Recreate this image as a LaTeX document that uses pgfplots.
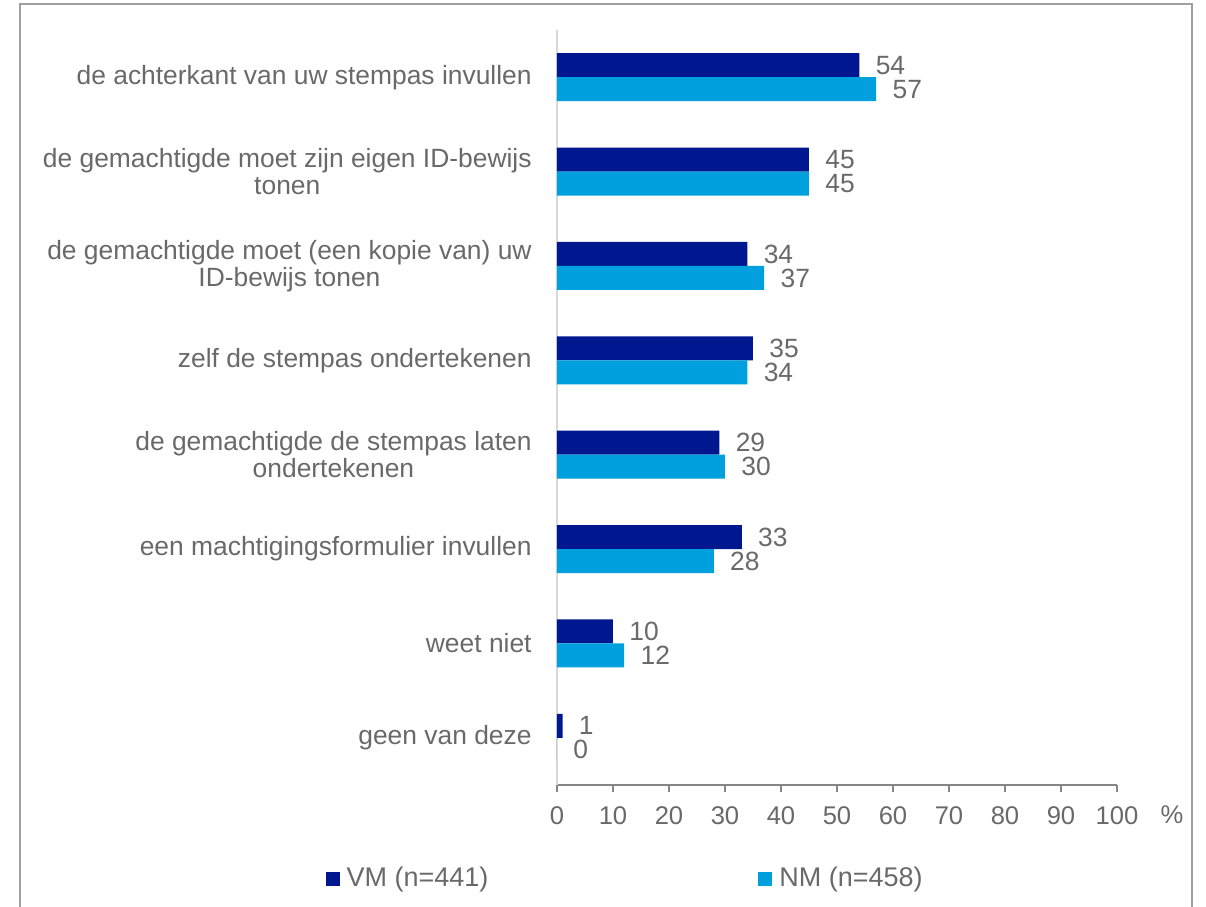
\documentclass[border=0pt]{standalone}
\usepackage{pgfplots}
\pgfplotsset{compat=1.18}
\usepackage{fontspec}
\setmainfont{Liberation Sans}
\definecolor{vm}{RGB}{0,24,143}
\definecolor{nm}{RGB}{0,160,222}
\definecolor{txt}{RGB}{105,105,105}
\definecolor{framec}{RGB}{160,160,160}
\definecolor{axl}{RGB}{134,134,134}
\definecolor{yaxl}{RGB}{217,217,217}
\begin{document}
\begin{tikzpicture}
\useasboundingbox (0,0) rectangle (603pt,453pt);
\draw[framec, line width=1pt] (10pt,-2pt) -- (10pt,451pt) -- (596pt,451pt) -- (596pt,-2pt);
\begin{axis}[
  at={(278.5pt,60.5pt)}, anchor=south west,
  scale only axis, width=280pt, height=377.5pt,
  xmin=0, xmax=100, ymin=0.5, ymax=8.5,
  xbar, bar width=12pt,
  clip=false,
  axis x line*=bottom, axis y line*=left,
  x axis line style={axl, line width=0.9pt},
  y axis line style={yaxl, line width=0.9pt},
  xtick={0,10,...,100},
  ytick={1,...,8},
  yticklabels={geen van deze, weet niet, een machtigingsformulier invullen, {de gemachtigde de stempas laten\\ondertekenen}, zelf de stempas ondertekenen, {de gemachtigde moet (een kopie van) uw\\ID-bewijs tonen}, {de gemachtigde moet zijn eigen ID-bewijs\\tonen}, de achterkant van uw stempas invullen},
  tick align=outside,
  x tick style={axl, line width=0.9pt},
  major tick length=3.5pt,
  y tick style={draw=none},
  /pgf/number format/assume math mode=true,
  xticklabel style={text=txt, font=\fontsize{12.8}{14}\selectfont, anchor=center, yshift=-12pt},
  yticklabel style={text=txt, font=\fontsize{13.2}{13.6}\selectfont, align=center, anchor=east, inner sep=0pt, xshift=-9pt},
  nodes near coords,
  nodes near coords style={anchor=west, inner sep=0pt, xshift=8pt, text=txt, font=\fontsize{13.2}{14}\selectfont},
  legend columns=2,
  legend style={draw=none, fill=none, inner sep=0pt, at={(-0.414,-0.124)}, anchor=west,
    nodes={inner sep=1.5pt, text=txt, font=\fontsize{13.5}{15}\selectfont},
    /tikz/every odd column/.append style={column sep=2pt},
    /tikz/every even column/.append style={column sep=133.5pt}},
]
\addplot[fill=vm, draw=none, bar shift=6pt,
  legend image code/.code={\fill[vm] (0pt,-3.5pt) rectangle (7pt,3.5pt);}]
  coordinates {(54,8) (45,7) (34,6) (35,5) (29,4) (33,3) (10,2) (1,1)};
\addplot[fill=nm, draw=none, bar shift=-6pt,
  legend image code/.code={\fill[nm] (0pt,-3.5pt) rectangle (7pt,3.5pt);}]
  coordinates {(57,8) (45,7) (37,6) (34,5) (30,4) (28,3) (12,2) (0,1)};
\legend{VM (n=441), NM (n=458)}
\node[text=txt, font=\fontsize{12.8}{14}\selectfont] at (rel axis cs:1,0) [xshift=27.5pt, yshift=-15pt] {\%};
\end{axis}
\end{tikzpicture}
\end{document}
